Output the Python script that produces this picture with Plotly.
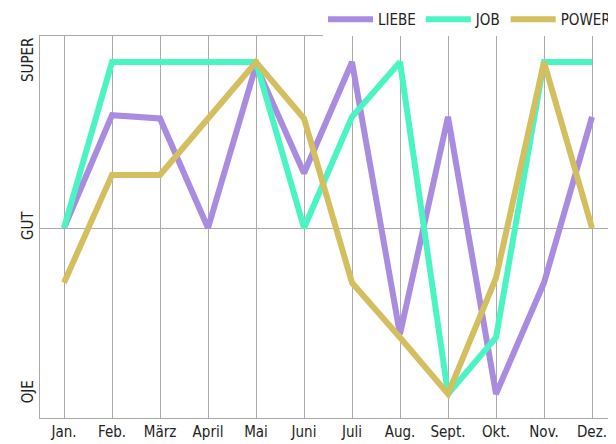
import plotly.graph_objects as go

months = ["Jan.", "Feb.", "März", "April", "Mai", "Juni", "Juli", "Aug.", "Sept.", "Okt.", "Nov.", "Dez."]
liebe = [0, 0.68, 0.66, 0, 0.98, 0.33, 1, -0.64, 0.67, -1, -0.33, 0.67]
job = [0, 1, 1, 1, 1, 0, 0.67, 1, -1, -0.66, 1, 1]
power = [-0.33, 0.32, 0.32, 0.66, 1, 0.66, -0.33, -0.66, -1, -0.3, 1, 0]
tick_vals = [-1, 0, 1]
tick_text = ["OJE", "GUT", "SUPER"]

fig = go.Figure()
for name, ys, col in [("LIEBE", liebe, "#a98be0"), ("JOB", job, "#4bf5c3"), ("POWER", power, "#d3bf5f")]:
    fig.add_trace(go.Scatter(x=months, y=ys, name=name, mode="lines",
                             line=dict(color=col, width=6)))

fig.update_layout(
    width=616, height=444, margin=dict(l=32, r=8, t=28, b=34, autoexpand=False),
    plot_bgcolor="white", paper_bgcolor="white",
    font=dict(family="DejaVu Sans Condensed, DejaVu Sans", size=15, color="#222"),
    legend=dict(orientation="h", x=1.0, xanchor="right", y=1.0, yanchor="bottom",
                font=dict(size=15), itemwidth=45, tracegroupgap=0),
    showlegend=True,
)
fig.update_xaxes(range=[-0.5, 11.5], showgrid=True, gridcolor="#aaa", gridwidth=1,
                 showline=True, linecolor="#aaa", mirror=True, ticks="")
fig.update_yaxes(range=[-1.145, 1.157], tickvals=tick_vals, ticktext=tick_text,
                 tickangle=-90, showgrid=False, zeroline=True, zerolinecolor="#aaa",
                 zerolinewidth=1, showline=True, linecolor="#aaa", mirror=True)
fig.write_html("out.html")
